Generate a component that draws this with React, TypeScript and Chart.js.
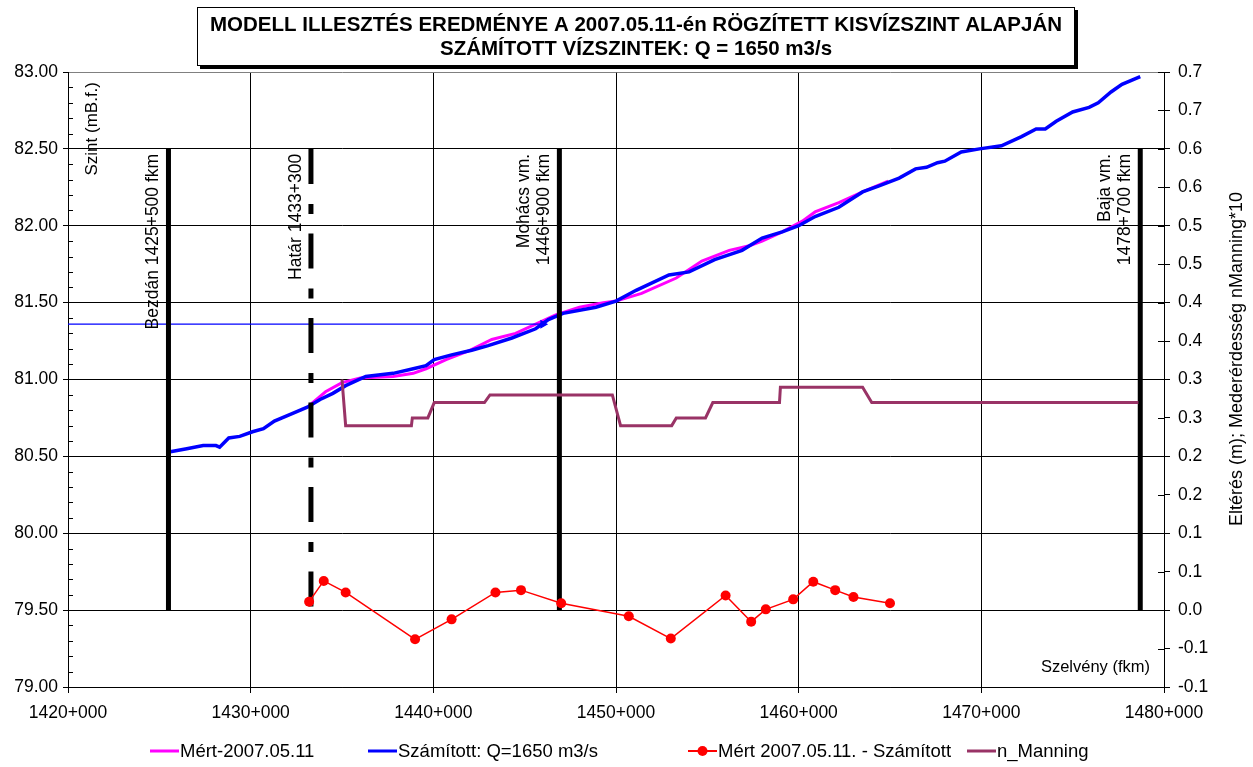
import React, { useEffect, useRef } from "react";
import { Chart, registerables } from "chart.js";

Chart.register(...registerables);

const FONT = "'Liberation Sans', Arial, Helvetica, sans-serif";

// ---- Data ----
const titleLines = [
  "MODELL ILLESZTÉS EREDMÉNYE A 2007.05.11-én RÖGZÍTETT KISVÍZSZINT ALAPJÁN",
  "SZÁMÍTOTT VÍZSZINTEK: Q = 1650 m3/s",
];

const xTicks = [1420, 1430, 1440, 1450, 1460, 1470, 1480];

const szamKm = [
  1425.6, 1426.5, 1427.4, 1428.1, 1428.3, 1428.8, 1429.4, 1430.1, 1430.7, 1431.3,
  1432.3, 1433.1, 1433.8, 1434.5, 1435.2, 1436.3, 1437.8, 1438.9, 1439.6, 1440.05,
  1441.0, 1442.1, 1443.0, 1444.3, 1445.6, 1446.3, 1447.1, 1448.9, 1450.0, 1451.1,
  1452.9, 1454.0, 1455.4, 1456.9, 1458.0, 1459.1, 1460.0, 1460.9, 1462.2, 1463.5,
  1464.4, 1465.5, 1466.4, 1467.0, 1467.6, 1468.0, 1468.9, 1469.9, 1471.1, 1472.2,
  1473.0, 1473.5, 1474.1, 1475.0, 1475.9, 1476.4, 1477.1, 1477.7, 1478.7,
];
const szamVal = [
  80.53, 80.55, 80.57, 80.57, 80.56, 80.62, 80.63, 80.66, 80.68, 80.73,
  80.78, 80.82, 80.87, 80.91, 80.96, 81.02, 81.04, 81.07, 81.09, 81.13,
  81.16, 81.19, 81.22, 81.27, 81.33, 81.39, 81.43, 81.47, 81.51, 81.58,
  81.68, 81.70, 81.78, 81.84, 81.92, 81.96, 82.0, 82.06, 82.12, 82.22,
  82.26, 82.31, 82.37, 82.38, 82.41, 82.42, 82.48, 82.5, 82.52, 82.58,
  82.63, 82.63, 82.68, 82.74, 82.77, 82.8, 82.87, 82.92, 82.97,
];

const mertKm = [
  1433.2, 1434.1, 1435.0, 1436.0, 1437.8, 1438.9, 1439.6, 1440.7, 1442.0, 1443.2,
  1444.5, 1445.6, 1446.7, 1448.0, 1449.3, 1450.0, 1451.4, 1453.3, 1454.7, 1456.2,
  1457.3, 1458.0, 1459.1, 1460.2, 1460.9, 1462.2, 1463.5, 1464.9,
];
const mertVal = [
  80.83, 80.92, 80.98, 81.01, 81.02, 81.04, 81.07, 81.13, 81.19, 81.26,
  81.3, 81.36, 81.42, 81.47, 81.5, 81.51, 81.56, 81.66, 81.77, 81.84,
  81.87, 81.9, 81.96, 82.03, 82.09, 82.15, 82.22, 82.29,
];

const diffKm = [
  1433.2, 1434.0, 1435.2, 1439.0, 1441.0, 1443.4, 1444.8, 1447.0, 1450.7, 1453.0,
  1456.0, 1457.4, 1458.2, 1459.7, 1460.8, 1462.0, 1463.0, 1465.0,
];
const diffVal = [
  0.011, 0.038, 0.023, -0.038, -0.012, 0.023, 0.026, 0.009, -0.008, -0.037,
  0.019, -0.015, 0.001, 0.014, 0.037, 0.026, 0.017, 0.009,
];

const manKm = [
  1435.0, 1435.2, 1438.8, 1438.85, 1439.7, 1440.05, 1442.8, 1443.1, 1449.8, 1450.25,
  1453.05, 1453.3, 1454.9, 1455.3, 1458.95, 1459.0, 1463.5, 1464.0, 1478.6,
];
const manVal = [
  0.3, 0.24, 0.24, 0.25, 0.25, 0.27, 0.27, 0.28, 0.28, 0.24,
  0.24, 0.25, 0.25, 0.27, 0.27, 0.29, 0.29, 0.27, 0.27,
];

const refLineKm = [1420, 1446.0];
const refLineVal = [81.36, 81.36];

const markerKm = [1425.5, 1433.3, 1446.9, 1478.7];
const markerLabels = [
  ["Bezdán 1425+500 fkm"],
  ["Határ 1433+300"],
  ["Mohács vm.", "1446+900 fkm"],
  ["Baja vm.", "1478+700 fkm"],
];
const markerDashed = [false, true, false, false];
const markerTop = 82.5;
const markerBottom = 79.5;

const legendLabels = [
  "Mért-2007.05.11",
  "Számított: Q=1650 m3/s",
  "Mért 2007.05.11. - Számított",
  "n_Manning",
];

const leftAxisTitle = "Szint (mB.f.)";
const rightAxisTitle = "Eltérés (m); Mederérdesség nManning*10";
const xAxisTitle = "Szelvény (fkm)";

const COL_MERT = "#FF00FF";
const COL_SZAM = "#0000FF";
const COL_DIFF = "#FF0000";
const COL_MAN = "#993366";

export default function App() {
  const ref = useRef<HTMLCanvasElement>(null);

  useEffect(() => {
    document.body.style.margin = "0";
    const canvas = ref.current!;
    const pts = (xs: number[], ys: number[]) => xs.map((x, i) => ({ x, y: ys[i] }));

    const markerSets = markerKm.map((km, i) => ({
      label: "marker" + i,
      data: [
        { x: km, y: markerTop },
        { x: km, y: markerBottom },
      ],
      yAxisID: "y",
      borderColor: "#000",
      borderWidth: 5,
      borderCapStyle: "butt" as const,
      borderDash: markerDashed[i] ? [35, 20, 10, 19.5] : [],
      pointRadius: 0,
      order: 2,
    }));

    const overlay = {
      id: "overlay",
      beforeDraw(chart: any) {
        const c = chart.ctx;
        c.save();
        c.fillStyle = "#fff";
        c.fillRect(0, 0, chart.width, chart.height);
        c.restore();
      },
      afterDraw(chart: any) {
        const c: CanvasRenderingContext2D = chart.ctx;
        const xs = chart.scales.x;
        const ys = chart.scales.y;
        const y1 = chart.scales.y1;
        const area = chart.chartArea;
        c.save();
        // minor ticks on left axis (inside)
        c.strokeStyle = "#000";
        c.lineWidth = 1;
        for (let k = 791; k < 830; k++) {
          if (k % 5 === 0) continue;
          const py = Math.round(ys.getPixelForValue(k / 10)) + 0.5;
          c.beginPath();
          c.moveTo(area.left, py);
          c.lineTo(area.left + 5, py);
          c.stroke();
        }
        // right axis inward ticks
        for (let k = -2; k <= 14; k++) {
          const py = Math.round(y1.getPixelForValue(k * 0.05)) + 0.5;
          c.beginPath();
          c.moveTo(area.right - 6, py);
          c.lineTo(area.right, py);
          c.stroke();
        }

        c.fillStyle = "#000";
        c.font = `17.5px ${FONT}`;
        // marker labels
        markerKm.forEach((km, i) => {
          const px = xs.getPixelForValue(km);
          const py = ys.getPixelForValue(markerTop) + 5;
          const lines = markerLabels[i];
          c.save();
          c.translate(px - 10, py);
          c.rotate(-Math.PI / 2);
          c.textAlign = "right";
          c.textBaseline = "alphabetic";
          lines.forEach((t, j) => {
            c.fillText(t, 0, -(lines.length - 1 - j) * 20);
          });
          c.restore();
        });

        // left axis title
        c.font = `17px ${FONT}`;
        c.save();
        c.translate(area.left + 29, area.top + 10);
        c.rotate(-Math.PI / 2);
        c.textAlign = "right";
        c.textBaseline = "alphabetic";
        c.fillText(leftAxisTitle, 0, 0);
        c.restore();

        // right axis title
        c.font = `18px ${FONT}`;
        c.save();
        c.translate(1237, 359);
        c.rotate(-Math.PI / 2);
        c.textAlign = "center";
        c.textBaseline = "middle";
        c.fillText(rightAxisTitle, 0, 0);
        c.restore();

        // x axis title
        c.font = `16.5px ${FONT}`;
        c.textAlign = "right";
        c.textBaseline = "alphabetic";
        c.fillText(xAxisTitle, area.right - 14, area.bottom - 15);

        // title box
        const bx = 197, by = 7, bw = 878, bh = 59;
        c.fillStyle = "#000";
        c.fillRect(bx + 3, by + 3, bw, bh);
        c.fillStyle = "#fff";
        c.fillRect(bx, by, bw, bh);
        c.strokeStyle = "#000";
        c.lineWidth = 1;
        c.strokeRect(bx + 0.5, by + 0.5, bw - 1, bh - 1);
        c.fillStyle = "#000";
        c.font = `bold 20.5px ${FONT}`;
        c.textAlign = "center";
        c.textBaseline = "middle";
        c.fillText(titleLines[0], bx + bw / 2, by + 18);
        c.fillText(titleLines[1], bx + bw / 2, by + 42);

        // legend
        const ly = 751;
        const items = [
          { x: 150, col: COL_MERT, w: 3, dot: false },
          { x: 368, col: COL_SZAM, w: 3, dot: false },
          { x: 688, col: COL_DIFF, w: 2, dot: true },
          { x: 967, col: COL_MAN, w: 3, dot: false },
        ];
        c.font = `18.5px ${FONT}`;
        c.textAlign = "left";
        c.textBaseline = "middle";
        items.forEach((it, i) => {
          c.strokeStyle = it.col;
          c.lineWidth = it.w;
          c.beginPath();
          c.moveTo(it.x, ly);
          c.lineTo(it.x + 29, ly);
          c.stroke();
          if (it.dot) {
            c.fillStyle = it.col;
            c.beginPath();
            c.arc(it.x + 14.5, ly, 5, 0, Math.PI * 2);
            c.fill();
          }
          c.fillStyle = "#000";
          c.fillText(legendLabels[i], it.x + 30, ly + 1);
        });
        c.restore();
      },
    };

    const tickFont = { size: 17.5, family: FONT };

    const chart = new Chart(canvas, {
      type: "line",
      data: {
        datasets: [
          {
            label: legendLabels[2],
            data: pts(diffKm, diffVal),
            yAxisID: "y1",
            borderColor: COL_DIFF,
            backgroundColor: COL_DIFF,
            borderWidth: 1.5,
            pointRadius: 5,
            pointBorderWidth: 0,
            pointBackgroundColor: COL_DIFF,
            order: 0,
          },
          {
            label: legendLabels[3],
            data: pts(manKm, manVal),
            yAxisID: "y1",
            borderColor: COL_MAN,
            borderWidth: 3,
            pointRadius: 0,
            order: 1,
          },
          ...markerSets,
          {
            label: "ref",
            data: pts(refLineKm, refLineVal),
            yAxisID: "y",
            borderColor: COL_SZAM,
            backgroundColor: COL_SZAM,
            borderWidth: 1.2,
            pointRadius: [0, 4],
            pointStyle: "triangle",
            rotation: 90,
            order: 3,
          },
          {
            label: legendLabels[1],
            data: pts(szamKm, szamVal),
            yAxisID: "y",
            borderColor: COL_SZAM,
            borderWidth: 3.5,
            pointRadius: 0,
            order: 3,
          },
          {
            label: legendLabels[0],
            data: pts(mertKm, mertVal),
            yAxisID: "y",
            borderColor: COL_MERT,
            borderWidth: 3,
            pointRadius: 0,
            order: 4,
          },
        ] as any,
      },
      options: {
        animation: false,
        responsive: false,
        devicePixelRatio: 1,
        layout: { padding: { top: 72, left: 0, right: 0, bottom: 0 } },
        plugins: {
          legend: { display: false },
          title: { display: false },
          tooltip: { enabled: false },
        },
        elements: { line: { tension: 0 } },
        scales: {
          x: {
            type: "linear",
            min: 1420,
            max: 1480,
            afterBuildTicks: (s: any) => {
              s.ticks = xTicks.map((v) => ({ value: v }));
            },
            ticks: {
              callback: (v: any) => `${v}+000`,
              color: "#000",
              font: tickFont,
              padding: 10,
              maxRotation: 0,
              autoSkip: false,
            },
            grid: { color: "#000", lineWidth: 1, tickLength: 6, tickColor: "#000" },
            border: { color: "#000", width: 1 },
            afterFit: (s: any) => {
              s.height = 80;
            },
          },
          y: {
            type: "linear",
            position: "left",
            min: 79,
            max: 83,
            ticks: {
              stepSize: 0.5,
              callback: (v: any) => Number(v).toFixed(2),
              color: "#000",
              font: tickFont,
              padding: 5,
              autoSkip: false,
            },
            grid: {
              color: (ctx: any) =>
                ctx.tick && Math.abs(ctx.tick.value - 83) < 1e-6 ? "#808080" : "#000",
              lineWidth: 1,
              tickLength: 5,
              tickColor: "#000",
            },
            border: { color: "#000", width: 1 },
            afterFit: (s: any) => {
              s.width = 68;
            },
          },
          y1: {
            type: "linear",
            position: "right",
            min: -0.1,
            max: 0.7,
            ticks: {
              stepSize: 0.05,
              callback: (v: any) => {
                const k = Math.round(Number(v) / 0.05);
                const val = (Math.sign(k) * Math.ceil(Math.abs(k) / 2)) / 10;
                return (val === 0 ? 0 : val).toFixed(1);
              },
              color: "#000",
              font: tickFont,
              padding: 8,
              autoSkip: false,
            },
            grid: { drawOnChartArea: false, tickLength: 6, tickColor: "#000" },
            border: { color: "#000", width: 1 },
            afterFit: (s: any) => {
              s.width = 89;
            },
          },
        },
      } as any,
      plugins: [overlay],
    });
    return () => chart.destroy();
  }, []);

  return <canvas ref={ref} width={1253} height={767} style={{ display: "block" }} />;
}
